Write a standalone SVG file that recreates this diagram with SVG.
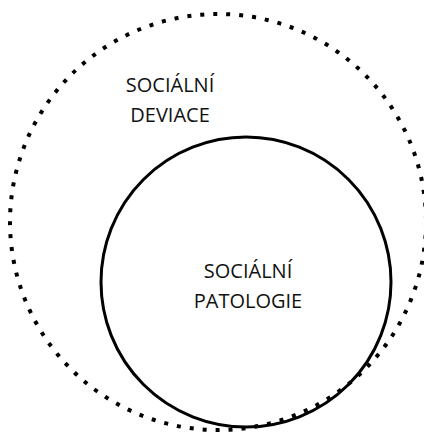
<svg xmlns="http://www.w3.org/2000/svg" width="424" height="432" viewBox="0 0 424 432">
<style>
text{font-family:"Open Sans","Liberation Sans",sans-serif;font-size:20px;fill:#111;text-anchor:middle}
.outer{fill:none;stroke:#000;stroke-width:4;stroke-dasharray:4 9}
.inner{fill:none;stroke:#000;stroke-width:3}
</style>
<rect width="424" height="432" fill="#fff"/>
<g id="deviace">
<circle class="outer" cx="218" cy="222" r="208"/>
<text x="170" y="92">SOCIÁLNÍ</text>
<text x="170" y="122">DEVIACE</text>
</g>
<g id="patologie">
<circle class="inner" cx="246" cy="282" r="145"/>
<text x="248" y="278">SOCIÁLNÍ</text>
<text x="248" y="308">PATOLOGIE</text>
</g>
<g id="connectors"/>
</svg>
